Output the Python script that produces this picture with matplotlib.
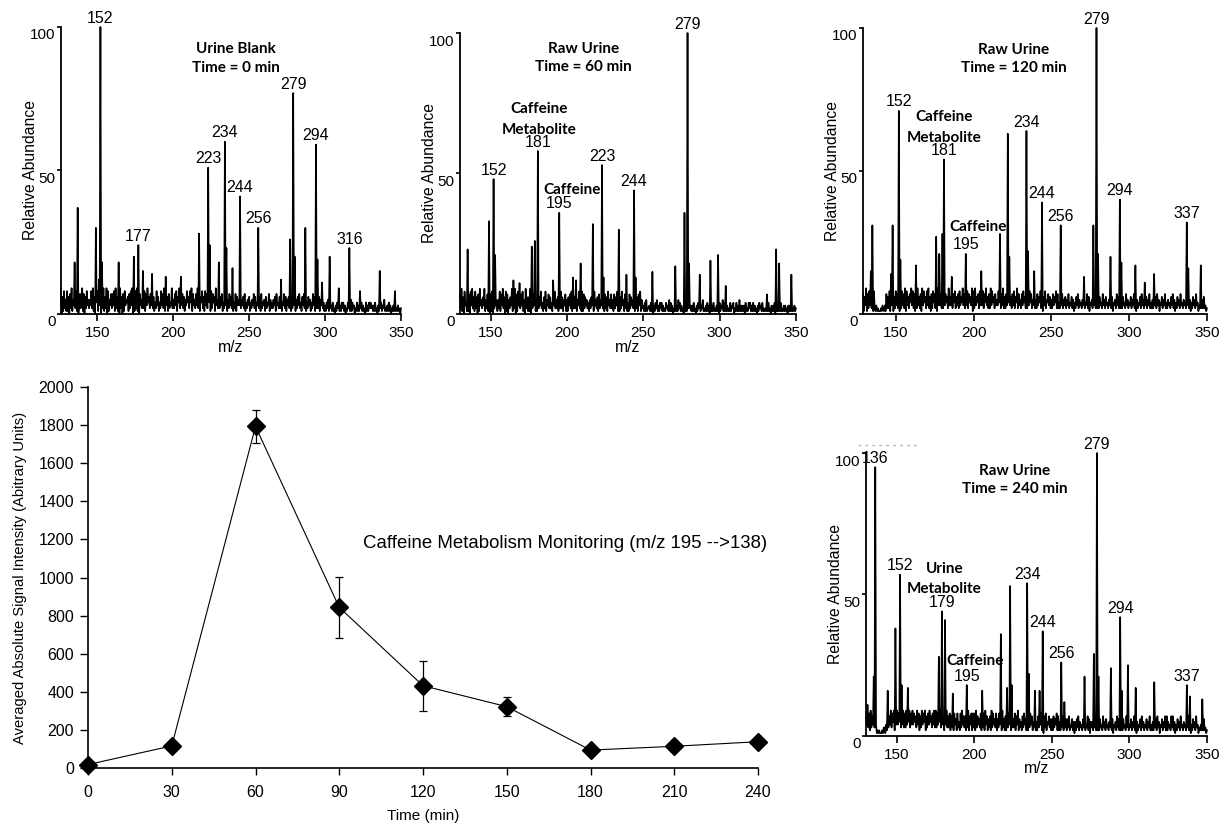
import numpy as np
import matplotlib.pyplot as plt
from matplotlib.lines import Line2D
from matplotlib.transforms import ScaledTranslation

plt.rcParams["font.family"] = ["Liberation Sans", "DejaVu Sans"]
BOLD_FONT = ["Lato", "DejaVu Sans"]

# ---- Time course (m/z 195 -> 138) ----
TIME_MIN = [0, 30, 60, 90, 120, 150, 180, 210, 240]
SIGNAL = [18, 116, 1793, 843, 432, 322, 94, 114, 138]
SIGNAL_ERR = [0, 0, 85, 161, 131, 50, 0, 0, 0]

# ---- Spectra ----
# baseline noise, one digit = % abundance,
# one digit per half m/z unit starting at NOISE_START
NOISE_START = 125
NOISE_STEP = 0.5

P1_NOISE = """
7290618251 8160729153 6281903726 9170628352 5382916074 8163705291 6290815372 7381926150
9260718354 6172839051 8291607352 5281739462 7392614283 6142837291 8361724392 5273816492
9372615384 6284917352 7392516482 6183729451 8274619352 5263714253 6152736241 4271635362
5362714253 6142537261 4352617243 5162437152 4253617342 6251437261 5362415273 4152637241
6372514263 5142736152 4261537241 3142514231 4120314251 3142413021 4231514230 2141315241
3120413142 4231314120 3142413251 2131413021 3141213120 2121212121
"""
P1_MZ = [135, 137, 149, 151, 152, 153, 164, 174, 177, 180, 186, 195, 205, 217, 223, 224,
         230, 234, 235, 239, 244, 256, 271, 277, 279, 280, 287, 294, 295, 298, 303, 309,
         316, 323, 336, 346]
P1_H = [18, 37, 30, 12, 100, 18, 18, 20, 24, 15, 14, 13, 13, 28, 51, 24,
        18, 60, 23, 16, 41, 30, 12, 26, 77, 20, 30, 59, 19, 11, 20, 9,
        23, 8, 15, 8]
P1_LABELS = [152, 177, 223, 234, 244, 256, 279, 294, 316]

P2_NOISE = """
6180927152 7291608341 5170839261 8260719352 6391527180 7180629351 5281739260 8170526391
6290718352 7381509261 6190827351 5172638241 6281537262 4173825261 7282615371 5163728152
6271538261 8172635241 5263718352 6172538261 7261835272 5172638151 6283517261 4172635281
5261738152 3141512231 4120314251 3142413121 4231514130 2141315241 3120413142 4231314120
3142413251 2131413021 3141213120 4132514121 3121413240 2141315131 3130412142 4131413120
3142314121 2131412031 3140213121 4121313120 3131212131 2121212121
"""
P2_MZ = [135, 149, 152, 153, 165, 169, 177, 179, 181, 191, 195, 204, 206, 209, 217, 223,
         224, 234, 239, 244, 245, 256, 271, 277, 279, 280, 287, 294, 299, 304, 331, 337,
         339, 347]
P2_H = [23, 33, 48, 21, 12, 11, 24, 26, 58, 12, 36, 13, 12, 18, 32, 53,
        13, 30, 14, 44, 13, 15, 17, 36, 100, 18, 14, 19, 21, 10, 7, 23,
        18, 14]
P2_LABELS = [152, 181, 195, 223, 244, 279]

P3_NOISE = """
5281638271 6391728362 7182131211 1213213172 6281937162 8372619283 7291836274 9382716293
6271938462 8392617284 7281936372 5283746293 6392748263 7283649372 5382746391 8293647283
6382749362 7293846273 5384627392 6273849362 7382649273 5273846282 6384725372 5273648291
6382547362 5273648272 4263725362 5372436251 4263725342 5362437261 4352637242 5263427352
6342537261 4352736242 5263427352 4362537241 5243627352 4362537242 5243627351 4362537242
5342637251 4263527342 5342637251 4263527341 3242526231 2121212121
"""
P3_MZ = [134, 135, 147, 148, 152, 153, 163, 176, 178, 180, 181, 186, 195, 205, 217, 222,
         223, 234, 235, 239, 244, 256, 271, 277, 279, 280, 288, 294, 295, 304, 310, 316,
         337, 338, 346]
P3_H = [15, 31, 14, 31, 71, 19, 17, 27, 21, 28, 54, 13, 21, 15, 28, 63,
        20, 64, 22, 15, 39, 31, 13, 31, 100, 21, 20, 40, 18, 17, 11, 14,
        32, 16, 17]
P3_LABELS = [152, 181, 195, 234, 244, 256, 279, 294, 337]

P4_NOISE = """
6382947384 7493829374 8394121211 1213314283 7493859274 9485738493 8394759384 9485739482
7394859273 8495738493 9384759384 6284937382 7392846283 5283947372 6392748283 8293746382
6382947263 7293846382 6384729362 7293846273 6382749263 5273846282 6384725372 5273648291
7382547362 6273648272 5263725362 6372436251 5263725342 6362437261 5352637242 4263427352
6342537261 4352736242 5263427352 4362537241 5243627352 4362537242 5243627351 4362537242
5342637251 4263527342 5342637251 4263527341 3242526231 2121212121
"""
P4_MZ = [131, 135, 136, 144, 149, 152, 153, 157, 177, 179, 181, 186, 195, 205, 217, 221,
         223, 224, 234, 235, 239, 242, 244, 256, 258, 271, 277, 279, 280, 288, 294, 295,
         299, 304, 316, 324, 327, 337, 339, 347]
P4_H = [11, 21, 95, 16, 38, 57, 18, 17, 28, 44, 41, 15, 18, 16, 36, 17,
        53, 18, 54, 22, 16, 16, 37, 26, 12, 21, 29, 100, 21, 24, 42, 16,
        25, 17, 19, 7, 7, 18, 14, 13]
P4_LABELS = [136, 152, 179, 195, 234, 244, 256, 279, 294, 337]


def draw_spectrum(fig, ax, xmin, noise, mz, h, labels, title, title_xy, notes,
                  xlabel_pad=None):
    y = np.array([int(c) for c in noise if c.isdigit()], dtype=float)
    x = NOISE_START + NOISE_STEP * np.arange(len(y))
    idx = lambda m: int(round((m - NOISE_START) / NOISE_STEP))
    for m, v in zip(mz, h):
        y[idx(m)] = max(y[idx(m)], v)
    keep = (x >= xmin) & (x <= 350)
    ax.plot(x[keep], y[keep], color="black", lw=1.2, clip_on=False)

    for m in labels:
        ax.text(m, y[idx(m)] + 0.5, str(m), ha="center", va="bottom",
                fontsize=11.5, clip_on=False)

    ax.text(title_xy[0], title_xy[1], title, ha="center", va="center",
            fontsize=11, fontweight="bold", family=BOLD_FONT, linespacing=1.4)
    for txt, tx, ty in notes:
        ax.text(tx, ty, txt, ha="center", va="center", fontsize=11,
                fontweight="bold", family=BOLD_FONT)

    ax.set_xlim(xmin, 350)
    ax.set_ylim(0, 100)
    ax.set_xticks([150, 200, 250, 300, 350])
    ax.set_yticks([0, 50, 100])
    ax.tick_params(axis="y", length=3, width=1.2, pad=1, labelsize=11)
    ax.tick_params(axis="x", length=5, width=1.2, pad=4, labelsize=11)
    # y tick labels sit a little below their ticks in the original
    shift = ScaledTranslation(0, -7 / 100, fig.dpi_scale_trans)
    for lab in ax.get_yticklabels():
        lab.set_transform(lab.get_transform() + shift)
    for s in ["top", "right"]:
        ax.spines[s].set_visible(False)
    for s in ["left", "bottom"]:
        ax.spines[s].set_linewidth(1.3)
    ax.set_ylabel("Relative Abundance", fontsize=11.3)
    ax.yaxis.set_label_coords(-0.068, 0.5)
    if xlabel_pad is not None:
        ax.set_xlabel("m/z", fontsize=11.3, labelpad=xlabel_pad)


def main():
    fig = plt.figure(figsize=(12.24, 8.25), dpi=100)

    ax1 = fig.add_axes([0.0498, 0.6194, 0.2778, 0.3479])
    draw_spectrum(fig, ax1, 126, P1_NOISE, P1_MZ, P1_H, P1_LABELS,
                  "Urine Blank\nTime = 0 min", (241, 89), [], xlabel_pad=0)

    ax2 = fig.add_axes([0.3758, 0.6194, 0.2745, 0.3406])
    draw_spectrum(fig, ax2, 130, P2_NOISE, P2_MZ, P2_H, P2_LABELS,
                  "Raw Urine\nTime = 60 min", (211, 91),
                  [("Caffeine", 182, 73), ("Metabolite", 182, 65.6),
                   ("Caffeine", 203.3, 44)],
                  xlabel_pad=0)

    ax3 = fig.add_axes([0.7051, 0.6194, 0.2810, 0.3467])
    draw_spectrum(fig, ax3, 129, P3_NOISE, P3_MZ, P3_H, P3_LABELS,
                  "Raw Urine\nTime = 120 min", (226, 89.2),
                  [("Caffeine", 181, 68.9), ("Metabolite", 181, 61.5),
                   ("Caffeine", 202.6, 30.4)])

    ax4 = fig.add_axes([0.7075, 0.1079, 0.2786, 0.3430])
    draw_spectrum(fig, ax4, 130, P4_NOISE, P4_MZ, P4_H, P4_LABELS,
                  "Raw Urine\nTime = 240 min", (226, 90.4),
                  [("Urine", 181, 58.9), ("Metabolite", 180.5, 51.8),
                   ("Caffeine", 200.4, 26.5)],
                  xlabel_pad=-1)
    fig.add_artist(Line2D([858 / 1224, 917 / 1224], [1 - 445 / 825] * 2,
                          color="#bbbbbb", lw=1, ls=(0, (2, 3))))

    # ---- Time course ----
    ax = fig.add_axes([0.0719, 0.0691, 0.5474, 0.4618])
    ax.errorbar(TIME_MIN, SIGNAL, yerr=SIGNAL_ERR, fmt="-D", color="black",
                lw=0.8, ms=9, capsize=3, elinewidth=0.9, capthick=0.9, clip_on=False)
    ax.set_xlim(0, 240)
    ax.set_ylim(0, 2000)
    ax.set_xticks(TIME_MIN)
    ax.set_yticks(np.arange(0, 2001, 200))
    ax.tick_params(axis="y", length=6, width=1, pad=4, labelsize=11.5)
    ax.tick_params(axis="x", length=5, width=1, pad=7, labelsize=11.5)
    for s in ["top", "right"]:
        ax.spines[s].set_visible(False)
    for s in ["left", "bottom"]:
        ax.spines[s].set_linewidth(1.2)
    ax.set_xlabel("Time (min)", fontsize=11, labelpad=7)
    ax.set_ylabel("Averaged Absolute Signal Intensity (Abitrary Units)", fontsize=10.6)
    ax.yaxis.set_label_coords(-0.091, 0.5)
    ax.text(98.5, 1180, "Caffeine Metabolism Monitoring (m/z 195 -->138)",
            ha="left", va="center", fontsize=13.4)

    fig.savefig("out.png", dpi=100)


if __name__ == "__main__":
    main()
